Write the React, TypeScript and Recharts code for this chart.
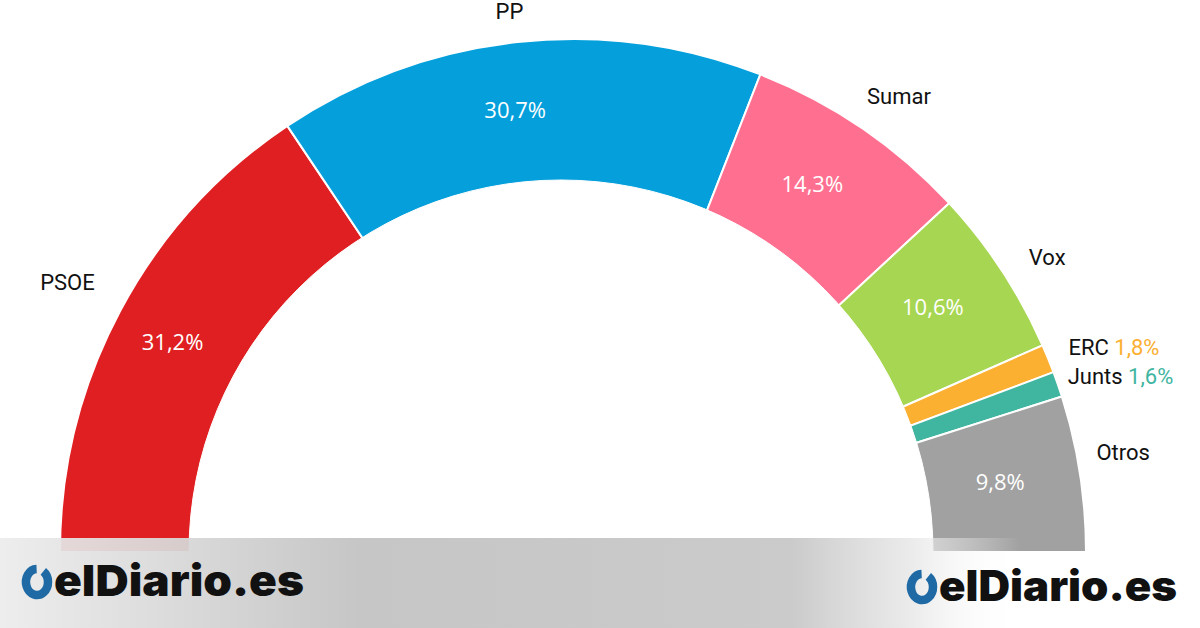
import { PieChart, Pie, Cell } from "recharts"

const parties = ["PSOE", "PP", "Sumar", "Vox", "ERC", "Junts", "Otros"]
const shares = [31.2, 30.7, 14.3, 10.6, 1.8, 1.6, 9.8]
const colors = ["#e01f22", "#05a0dc", "#ff7090", "#a7d652", "#fbb031", "#40b5a0", "#a1a1a1"]

// small slices get the name + share outside, next to each other
const smallSlices = ["ERC", "Junts"]
// party name: distance from the outer edge and a small angle nudge
const nameOffset = [60, 31, 47, 45, 23, 12, 46]
const nameShift = [0, 0.5, -1.3, -1.5, 0.3, 0.5, 1.4]

const data = parties.map((name, i) => ({ name, value: shares[i], color: colors[i] }))
const hole = [{ name: "hole", value: 1 }]

const fmt = (v: number) => v.toFixed(1).replace(".", ",") + "%"
const RAD = Math.PI / 180

const font = "Roboto, 'Noto Sans', sans-serif"

// the white hole is a bit off-centre in the original, so it is a separate pie
const CX = 573
const CY = 552
const HOLE_CX = 561
const HOLE_R = 372

function renderLabel(props: any) {
  const { cx, cy, midAngle, outerRadius, index } = props
  const entry = data[index]
  const cos = Math.cos(-midAngle * RAD)
  const sin = Math.sin(-midAngle * RAD)

  const na = -(midAngle + nameShift[index]) * RAD
  const rOut = outerRadius + nameOffset[index]
  const nx = cx + rOut * Math.cos(na)
  const ny = cy + rOut * Math.sin(na)

  if (smallSlices.includes(entry.name)) {
    return (
      <text x={nx} y={ny} textAnchor="start" dominantBaseline="central" fontFamily={font} fontSize={22} fill="#111">
        {entry.name}{" "}
        <tspan fill={entry.color}>{fmt(entry.value)}</tspan>
      </text>
    )
  }

  // middle of the ring between outer edge and the shifted hole
  const ox = cx + outerRadius * cos
  const oy = cy + outerRadius * sin
  const ix = HOLE_CX + HOLE_R * cos
  const iy = CY + HOLE_R * sin
  const px = (ox + ix) / 2 - 4
  const py = (oy + iy) / 2 - 3

  return (
    <g>
      <text x={px} y={py} textAnchor="middle" dominantBaseline="central" fontFamily="'Open Sans', Roboto, sans-serif" fontSize={22} fill="#fff">
        {fmt(entry.value)}
      </text>
      <text x={nx} y={ny} textAnchor="middle" dominantBaseline="central" fontFamily={font} fontSize={22} fill="#111">
        {entry.name}
      </text>
    </g>
  )
}

function Logo({ x, y, size, length }: { x: number; y: number; size: number; length: number }) {
  // ring with a notch at the top, slightly elongated like the letter O
  const a = 11
  const b = 13
  const cx = x + 13
  const cy = y - 14
  const x1 = cx + a * Math.cos(-55 * RAD)
  const y1 = cy + b * Math.sin(-55 * RAD)
  const x2 = cx + a * Math.cos(-92 * RAD)
  const y2 = cy + b * Math.sin(-92 * RAD)
  return (
    <g>
      <path
        d={`M ${x1} ${y1} A ${a} ${b} 0 1 1 ${x2} ${y2}`}
        fill="none"
        stroke="#1f6aa5"
        strokeWidth={8.5}
      />
      <text
        x={x + 30}
        y={y}
        fontFamily="Inter, 'DejaVu Sans', sans-serif"
        fontWeight={900}
        fontSize={size}
        textLength={length}
        lengthAdjust="spacingAndGlyphs"
        fill="#111"
      >
        elDiario.es
      </text>
    </g>
  )
}

export default function App() {
  return (
    <div style={{ position: "absolute", left: 0, top: 0, width: 1200, height: 628, background: "#fff", overflow: "hidden" }}>
      <PieChart width={1200} height={628} margin={{ top: 0, right: 0, bottom: 0, left: 0 }}>
        <Pie
          data={data}
          dataKey="value"
          nameKey="name"
          cx={CX}
          cy={CY}
          startAngle={180}
          endAngle={0}
          innerRadius={340}
          outerRadius={513}
          stroke="#fff"
          strokeWidth={2}
          label={renderLabel}
          labelLine={false}
          isAnimationActive={false}
        >
          {data.map((d, i) => (
            <Cell key={`cell-${i}`} fill={d.color} />
          ))}
        </Pie>
        <Pie
          data={hole}
          dataKey="value"
          cx={HOLE_CX}
          cy={CY}
          startAngle={180}
          endAngle={0}
          innerRadius={0}
          outerRadius={HOLE_R}
          fill="#fff"
          stroke="#fff"
          strokeWidth={1}
          isAnimationActive={false}
        />
      </PieChart>
      <svg width={1200} height={628} style={{ position: "absolute", left: 0, top: 0, pointerEvents: "none" }}>
        <defs>
          <linearGradient id="band" x1="0" y1="0" x2="1" y2="0">
            <stop offset="0" stopColor="#ececec" stopOpacity={0.93} />
            <stop offset="0.3" stopColor="#c3c3c3" stopOpacity={0.95} />
            <stop offset="0.66" stopColor="#c8c8c8" stopOpacity={0.95} />
            <stop offset="0.76" stopColor="#e6e6e6" stopOpacity={0.8} />
            <stop offset="0.85" stopColor="#ffffff" stopOpacity={0} />
          </linearGradient>
        </defs>
        <rect x={0} y={538} width={1200} height={90} fill="url(#band)" />
        <Logo x={24} y={596} size={43} length={250} />
        <Logo x={909} y={601} size={42} length={238} />
      </svg>
    </div>
  )
}
